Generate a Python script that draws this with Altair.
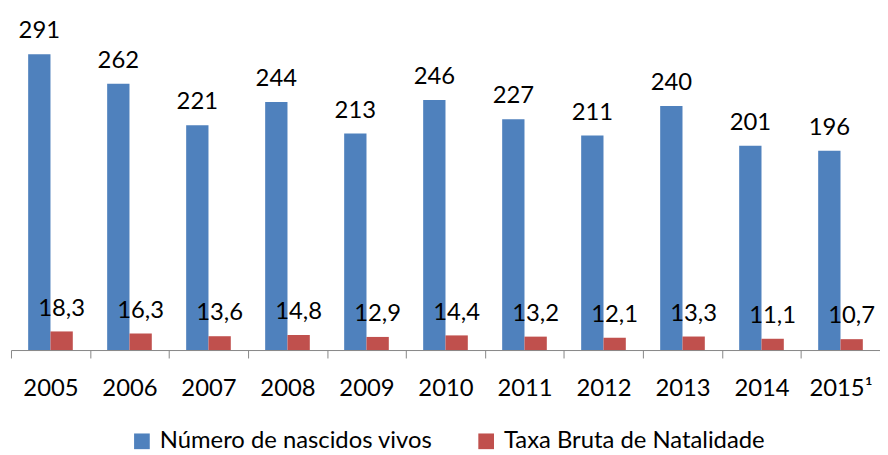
import altair as alt
import pandas as pd

anos = ["2005", "2006", "2007", "2008", "2009", "2010", "2011", "2012", "2013", "2014", "2015¹"]
nascidos = [291, 262, 221, 244, 213, 246, 227, 211, 240, 201, 196]
taxa = [18.3, 16.3, 13.6, 14.8, 12.9, 14.4, 13.2, 12.1, 13.3, 11.1, 10.7]
series = ["Número de nascidos vivos", "Taxa Bruta de Natalidade"]
cores = ["#4F81BD", "#C0504D"]

rows = []
for a, n, t in zip(anos, nascidos, taxa):
    rows.append({"ano": a, "serie": series[0], "valor": n})
    rows.append({"ano": a, "serie": series[1], "valor": t})
df = pd.DataFrame(rows)

FONT = "Lato"
W, H = 876, 328

x = alt.X(
    "ano:N",
    sort=anos,
    scale=alt.Scale(paddingInner=0, paddingOuter=0),
    axis=alt.Axis(
        title=None,
        labelAngle=0,
        tickBand="extent",
        grid=False,
        domainColor="#868686",
        tickColor="#868686",
        tickSize=8,
        labelFont=FONT,
        labelFontSize=24,
        labelColor="black",
        labelPadding=19,
    ),
)
xo = alt.XOffset("serie:N", sort=series, scale=alt.Scale(paddingInner=0, paddingOuter=0.77))
y = alt.Y("valor:Q", scale=alt.Scale(domain=[0, 320]), axis=None)

base = alt.Chart(df).encode(x=x, xOffset=xo, y=y)

bars = base.mark_bar().encode(
    color=alt.Color(
        "serie:N",
        sort=series,
        scale=alt.Scale(domain=series, range=cores),
        legend=alt.Legend(
            title=None,
            orient="none",
            legendX=120,
            legendY=408,
            direction="horizontal",
            symbolType="square",
            symbolSize=250,
            symbolStrokeWidth=0,
            symbolOpacity=1,
            labelFont=FONT,
            labelFontSize=24,
            labelColor="black",
            labelOffset=6,
            labelLimit=0,
            columnPadding=42,
        ),
    )
)

text = base.transform_calculate(
    label="datum.serie == '" + series[1] + "' ? replace(format(datum.valor, '.1f'), '.', ',') : format(datum.valor, 'd')"
).mark_text(
    font=FONT, fontSize=24, baseline="alphabetic", dy=-16, color="black"
).encode(text="label:N")

chart = (
    alt.layer(bars, text)
    .properties(
        width=W,
        height=H,
        padding={"left": 3, "top": 15, "right": 0, "bottom": 104},
        autosize=alt.AutoSizeParams(type="none"),
        background="white",
    )
    .configure_view(stroke=None)
)

chart.save("out.html", embed_options={"renderer": "svg", "actions": False})
